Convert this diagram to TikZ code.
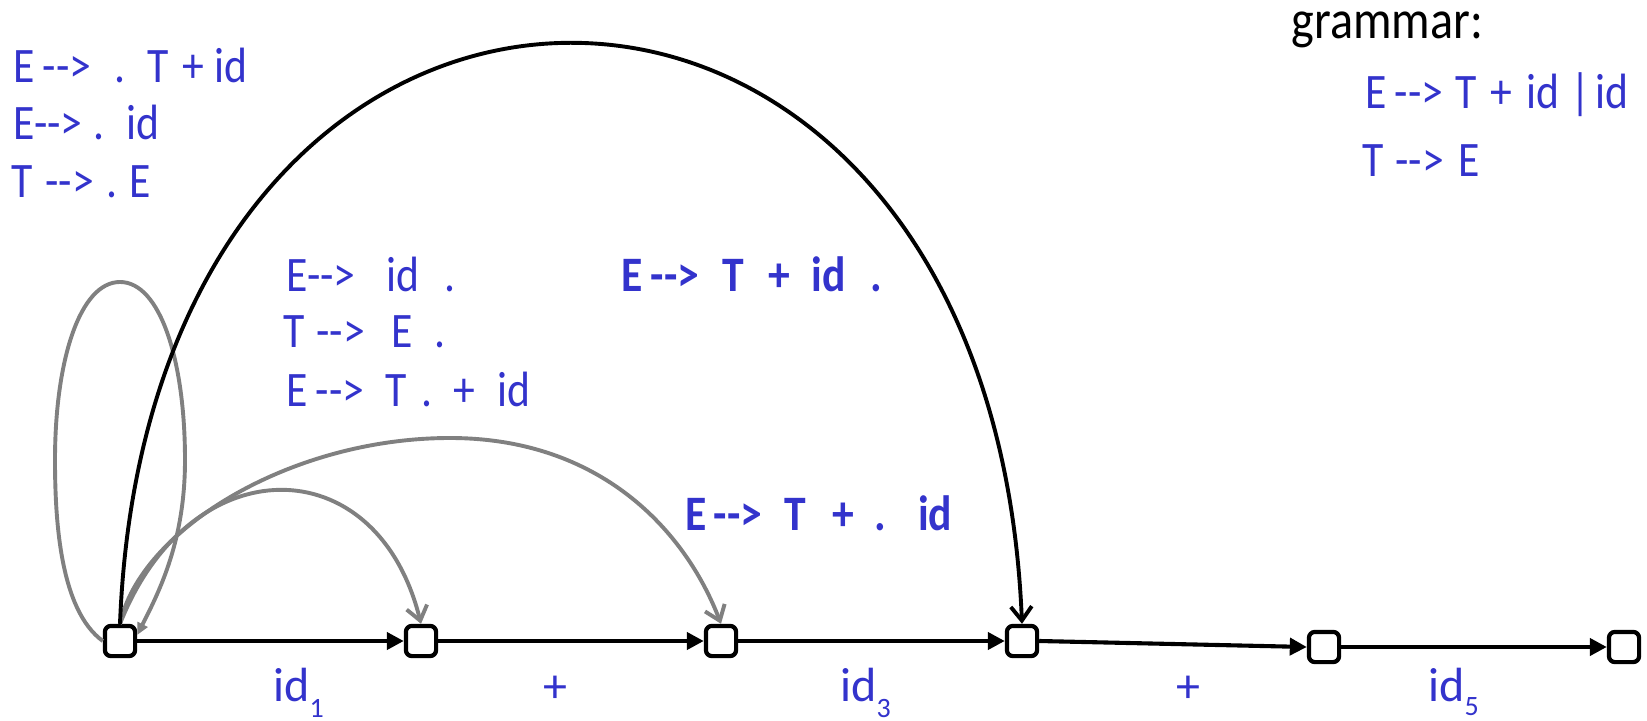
\documentclass[tikz,border=0pt]{standalone}
\usepackage{fontspec}
\setmainfont{Carlito}[FakeStretch=0.88]
\newfontfamily\plainfont{Carlito}
\usetikzlibrary{arrows.meta}
\definecolor{itemblue}{RGB}{51,51,204}
\definecolor{edgegray}{RGB}{128,128,128}
\newcommand{\myarrow}{-\kern0pt-\kern0pt>}
\newcommand{\hs}[1]{\hspace*{#1pt}}
\begin{document}
\begin{tikzpicture}[x=0.5pt,y=-0.5pt,
  state/.style={draw=black,line width=2.1pt,rounded corners=3pt,minimum width=15.1pt,minimum height=15.1pt,inner sep=0pt,fill=white},
  prod/.style={text=itemblue,font=\fontsize{24.8}{30}\selectfont,anchor=base west,inner sep=0pt},
  prodb/.style={text=itemblue,font=\fontsize{24.8}{30}\selectfont\bfseries,anchor=base west,inner sep=0pt},
  elab/.style={text=itemblue,font=\plainfont\fontsize{24}{28}\selectfont,anchor=base west,inner sep=0pt},
  plab/.style={text=itemblue,font=\plainfont\fontsize{24}{28}\selectfont,anchor=center,inner sep=0pt},
  tedge/.style={draw=black,line width=2.05pt,-{Triangle[length=8.5pt,width=8.5pt]}},
  gedge/.style={draw=edgegray,line width=1.95pt,-{Straight Barb[length=7pt,width=10.5pt]}},
  bedge/.style={draw=black,line width=1.95pt,-{Straight Barb[length=7pt,width=10.5pt]}},
  loopedge/.style={draw=edgegray,line width=1.95pt,-{Triangle[length=6pt,width=5.5pt]}},
]
\useasboundingbox (0,0) rectangle (1647,721);
\fill[white] (0,0) rectangle (1647,721);

% states
\node[state] (n0) at (120,641) {};
\node[state] (n1) at (421,641) {};
\node[state] (n2) at (721,641) {};
\node[state] (n3) at (1022,641) {};
\node[state] (n4) at (1324,647) {};
\node[state] (n5) at (1624,647) {};

% straight transitions
\draw[tedge] (n0) -- (n1);
\draw[tedge] (n1) -- (n2);
\draw[tedge] (n2) -- (n3);
\draw[tedge] (n3.east) -- (n4.west);
\draw[tedge] (n4) -- (n5);

% curved edges
\draw[loopedge] (n0.west) .. controls (60,610) and (55,520) .. (55,460)
  .. controls (55,360) and (80,282) .. (120,282)
  .. controls (160,282) and (185,360) .. (185,460)
  .. controls (185,540) and (160,590) .. ([yshift=3pt]n0.east);
\draw[gedge] (n0.north) .. controls (190,446) and (377,446) .. (n1.north);
\draw[gedge] (n0.north) .. controls (140,530) and (290,438) .. (450,438)
  .. controls (600,438) and (685,530) .. (n2.north);
\draw[bedge] (n0.north) .. controls (150,-150) and (990,-150) .. (n3.north);

% edge labels
\node[elab] (l1) at (273,701) {id\raisebox{-8pt}{\fontsize{14}{17}\selectfont 1}};
\node[plab] (l2) at (555,689) {+};
\node[elab] (l3) at (840,701) {id\raisebox{-8pt}{\fontsize{14}{17}\selectfont 3}};
\node[plab] (l4) at (1188,689) {+};
\node[elab] (l5) at (1428,701) {id\raisebox{-7pt}{\fontsize{14}{17}\selectfont 5}};

% item sets
\node[prod] (a1) at (13,83) {E\hs{4}\myarrow\hs{11.5}.\hs{11}T\hs{7}+\hs{5}id};
\node[prod] (a2) at (13,140) {E\myarrow\hs{5.5}.\hs{11}id};
\node[prod] (a3) at (11,198) {T\hs{6.5}\myarrow\hs{6}.\hs{6}E};

\node[prod] (b1) at (286,292) {E\myarrow\hs{15.5}id\hs{12.5}.};
\node[prod] (b2) at (283,348) {T\hs{6}\myarrow\hs{13}E\hs{11}.};
\node[prod] (b3) at (286,406) {E\hs{4}\myarrow\hs{10.5}T\hs{7.5}.\hs{10.5}+\hs{11}id};

\node[prodb] (c1) at (621,292) {E\hs{4}\myarrow\hs{11.5}T\hs{12.5}+\hs{10.5}id\hs{12.5}.};
\node[prodb] (c2) at (685,530) {E\hs{3.5}\myarrow\hs{11}T\hs{13.5}+\hs{10}.\hs{16}id};

% grammar
\node[anchor=base west,inner sep=0pt,font=\fontsize{27.4}{32}\selectfont] (g0) at (1291,39) {grammar:};
\node[prod] (g1) at (1365,109) {E\hs{4}\myarrow\hs{6}T\hs{7}+\hs{7}id\hs{5.5}|\hs{2.5}id};
\node[prod] (g2) at (1362,177) {T\hs{6}\myarrow\hs{7}E};
\end{tikzpicture}
\end{document}
